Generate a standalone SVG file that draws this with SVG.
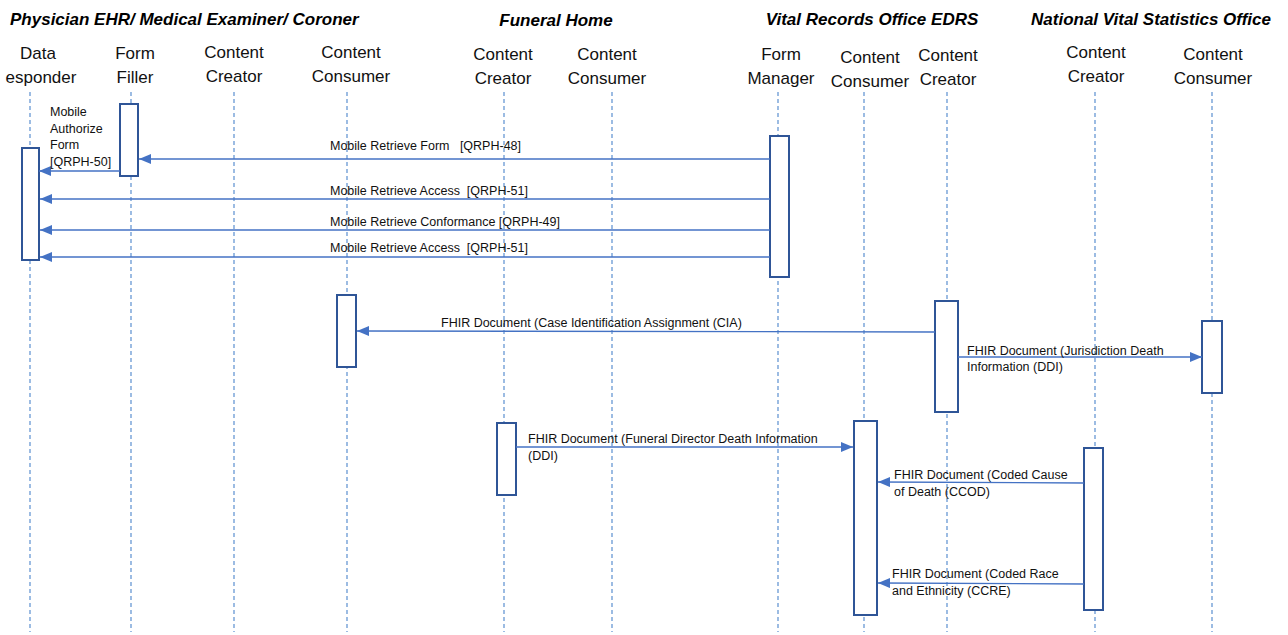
<svg xmlns="http://www.w3.org/2000/svg" width="1288" height="635" viewBox="0 0 1288 635">
<defs>
<style>
.title{font-family:"Liberation Sans",Arial,sans-serif;font-weight:bold;font-style:italic;font-size:17px;fill:#000}
.actor{font-family:"Liberation Sans",Arial,sans-serif;font-size:17px;fill:#111;text-anchor:middle}
.lbl{font-family:"Liberation Sans",Arial,sans-serif;font-size:12.5px;fill:#111}
.life{stroke:#5b8fd0;stroke-width:1.2;stroke-dasharray:4,3;fill:none}
.act{fill:#fff;stroke:#2f5597;stroke-width:2}
.msg{stroke:#4472c4;stroke-width:1.3;fill:none;marker-end:url(#ah)}
</style>
<marker id="ah" viewBox="0 0 12 10" refX="12" refY="5" markerWidth="12" markerHeight="10" markerUnits="userSpaceOnUse" orient="auto">
<path d="M0,0 L12,5 L0,10 z" fill="#4472c4"/>
</marker>
</defs>
<rect width="1288" height="635" fill="#fff"/>
<g id="titles">
<text class="title" x="10" y="25">Physician EHR/ Medical Examiner/ Coroner</text>
<text class="title" x="556" y="26" text-anchor="middle">Funeral Home</text>
<text class="title" x="872" y="25" text-anchor="middle">Vital Records Office EDRS</text>
<text class="title" x="1151" y="25" text-anchor="middle">National Vital Statistics Office</text>
</g>
<g id="lifelines">
<line class="life" x1="30" y1="92" x2="30" y2="632"/>
<line class="life" x1="131" y1="92" x2="131" y2="632"/>
<line class="life" x1="234" y1="92" x2="234" y2="632"/>
<line class="life" x1="347" y1="92" x2="347" y2="632"/>
<line class="life" x1="504" y1="92" x2="504" y2="632"/>
<line class="life" x1="612" y1="92" x2="612" y2="632"/>
<line class="life" x1="778" y1="92" x2="778" y2="632"/>
<line class="life" x1="864" y1="92" x2="864" y2="632"/>
<line class="life" x1="947" y1="92" x2="947" y2="632"/>
<line class="life" x1="1095" y1="92" x2="1095" y2="632"/>
<line class="life" x1="1212" y1="92" x2="1212" y2="632"/>
</g>
<g id="data-responder">
<text class="actor" x="38" y="59">Data</text>
<text class="actor" x="41" y="83">esponder</text>
<rect class="act" x="22" y="148" width="17" height="112"/>
</g>
<g id="form-filler">
<text class="actor" x="135" y="59">Form</text>
<text class="actor" x="135" y="83">Filler</text>
<rect class="act" x="120" y="104" width="18" height="72"/>
</g>
<g id="phys-content-creator">
<text class="actor" x="234" y="58">Content</text>
<text class="actor" x="234" y="82">Creator</text>
</g>
<g id="phys-content-consumer">
<text class="actor" x="351" y="58">Content</text>
<text class="actor" x="351" y="82">Consumer</text>
<rect class="act" x="337" y="295" width="19" height="72"/>
</g>
<g id="fh-content-creator">
<text class="actor" x="503" y="60">Content</text>
<text class="actor" x="503" y="84">Creator</text>
<rect class="act" x="497" y="423" width="19" height="72"/>
</g>
<g id="fh-content-consumer">
<text class="actor" x="607" y="60">Content</text>
<text class="actor" x="607" y="84">Consumer</text>
</g>
<g id="form-manager">
<text class="actor" x="781" y="60">Form</text>
<text class="actor" x="781" y="84">Manager</text>
<rect class="act" x="770" y="136" width="19" height="141"/>
</g>
<g id="vr-content-consumer">
<text class="actor" x="870" y="63">Content</text>
<text class="actor" x="870" y="87">Consumer</text>
<rect class="act" x="854" y="421" width="23" height="194"/>
</g>
<g id="vr-content-creator">
<text class="actor" x="948" y="61">Content</text>
<text class="actor" x="948" y="85">Creator</text>
<rect class="act" x="935" y="301" width="23" height="111"/>
</g>
<g id="nvso-content-creator">
<text class="actor" x="1096" y="58">Content</text>
<text class="actor" x="1096" y="82">Creator</text>
<rect class="act" x="1084" y="448" width="19" height="162"/>
</g>
<g id="nvso-content-consumer">
<text class="actor" x="1213" y="60">Content</text>
<text class="actor" x="1213" y="84">Consumer</text>
<rect class="act" x="1202" y="321" width="20" height="72"/>
</g>
<g id="connectors">
<line class="msg" x1="120" y1="171" x2="39" y2="171"/>
<text class="lbl" x="50" y="116">Mobile</text>
<text class="lbl" x="50" y="133">Authorize</text>
<text class="lbl" x="50" y="149">Form</text>
<text class="lbl" x="50" y="166">[QRPH-50]</text>
<line class="msg" x1="770" y1="159" x2="139" y2="159"/>
<text class="lbl" x="330" y="150" xml:space="preserve">Mobile Retrieve Form   [QRPH-48]</text>
<line class="msg" x1="770" y1="199" x2="40" y2="199"/>
<text class="lbl" x="330" y="195" xml:space="preserve">Mobile Retrieve Access  [QRPH-51]</text>
<line class="msg" x1="770" y1="230" x2="40" y2="230"/>
<text class="lbl" x="330" y="226">Mobile Retrieve Conformance [QRPH-49]</text>
<line class="msg" x1="770" y1="257" x2="40" y2="257"/>
<text class="lbl" x="330" y="252" xml:space="preserve">Mobile Retrieve Access  [QRPH-51]</text>
<line class="msg" x1="935" y1="332" x2="357" y2="331"/>
<text class="lbl" x="441" y="327">FHIR Document (Case Identification Assignment (CIA)</text>
<line class="msg" x1="958" y1="357" x2="1202" y2="357"/>
<text class="lbl" x="967" y="355">FHIR Document (Jurisdiction Death</text>
<text class="lbl" x="967" y="371">Information (DDI)</text>
<line class="msg" x1="516" y1="447" x2="853" y2="447"/>
<text class="lbl" x="528" y="443">FHIR Document (Funeral Director Death Information</text>
<text class="lbl" x="528" y="460">(DDI)</text>
<line class="msg" x1="1084" y1="483" x2="878" y2="482"/>
<text class="lbl" x="894" y="479">FHIR Document (Coded Cause</text>
<text class="lbl" x="894" y="496">of Death (CCOD)</text>
<line class="msg" x1="1084" y1="584" x2="878" y2="583"/>
<text class="lbl" x="892" y="578">FHIR Document (Coded Race</text>
<text class="lbl" x="892" y="595">and Ethnicity (CCRE)</text>
</g>
</svg>
